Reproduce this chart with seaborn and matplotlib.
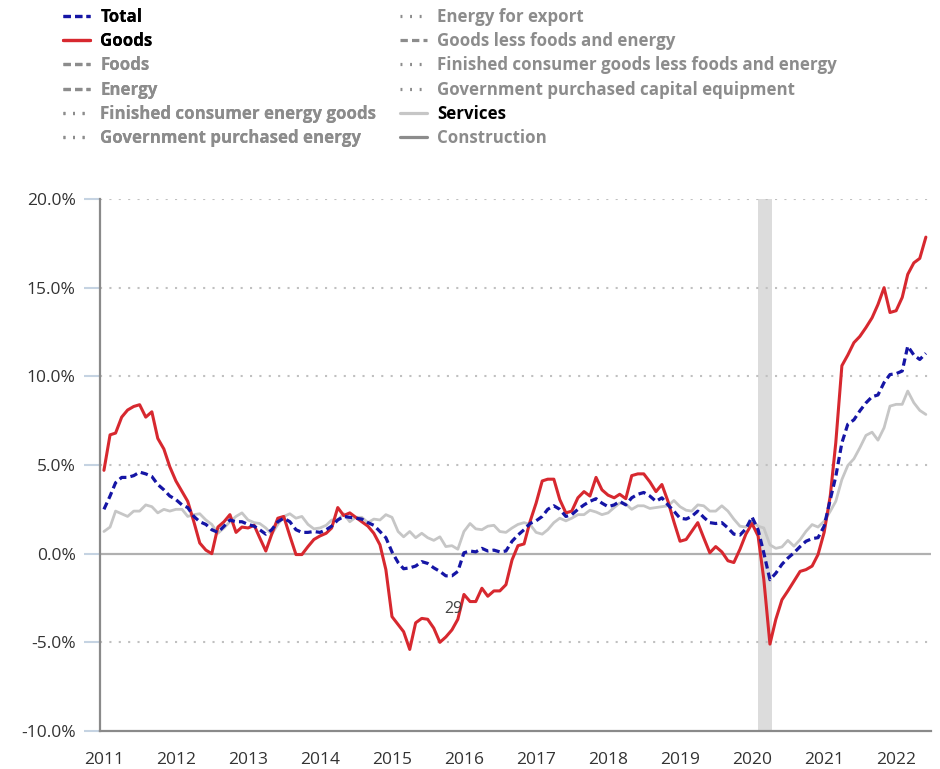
import pandas as pd
import numpy as np
import matplotlib.pyplot as plt
import seaborn as sns
from matplotlib.lines import Line2D
import matplotlib.dates as mdates

# Monthly 12-month % change, Jan 2011 - Jun 2022
goods = [4.7, 6.7, 6.8, 7.7, 8.1, 8.3, 8.4, 7.7, 8.0, 6.5, 5.9, 4.9,
         4.1, 3.5, 2.95, 1.8, 0.6, 0.2, 0.0, 1.5, 1.8, 2.2, 1.2, 1.5,
         1.45, 1.6, 0.9, 0.15, 1.1, 2.0, 2.1, 1.0, -0.05, -0.05, 0.4, 0.8,
         1.0, 1.15, 1.45, 2.6, 2.15, 2.3, 2.05, 1.8, 1.55, 1.15, 0.5, -0.9,
         -3.55, -4.0, -4.4, -5.4, -3.9, -3.65, -3.7, -4.2, -5.0, -4.7, -4.3, -3.7,
         -2.3, -2.7, -2.7, -1.95, -2.4, -2.1, -2.1, -1.75, -0.35, 0.45, 0.55, 1.8,
         2.85, 4.1, 4.2, 4.2, 3.05, 2.3, 2.4, 3.15, 3.5, 3.25, 4.3, 3.6,
         3.3, 3.15, 3.35, 3.1, 4.4, 4.5, 4.5, 4.05, 3.5, 3.9, 2.95, 1.8,
         0.7, 0.8, 1.25, 1.75, 0.9, 0.05, 0.4, 0.1, -0.4, -0.5, 0.25, 1.1,
         1.7, 1.0, -1.45, -5.1, -3.7, -2.6, -2.1, -1.55, -1.0, -0.9, -0.7, -0.05,
         1.2, 3.25, 6.25, 10.6, 11.2, 11.9, 12.25, 12.75, 13.3, 14.05, 15.0, 13.6,
         13.7, 14.45, 15.75, 16.4, 16.65, 17.85]

total = [2.5, 3.25, 4.0, 4.3, 4.3, 4.4, 4.6, 4.5, 4.35, 3.9, 3.6, 3.25,
         3.05, 2.75, 2.6, 2.1, 1.8, 1.65, 1.35, 1.2, 1.55, 1.9, 1.8, 1.8,
         1.65, 1.55, 1.35, 1.1, 1.35, 1.8, 2.0, 1.8, 1.35, 1.2, 1.2, 1.25,
         1.2, 1.35, 1.55, 1.9, 2.1, 2.05, 2.0, 1.95, 1.75, 1.6, 1.25, 0.9,
         0.1, -0.5, -0.85, -0.8, -0.7, -0.45, -0.55, -0.8, -1.0, -1.25, -1.25, -1.0,
         0.05, 0.15, 0.1, 0.3, 0.15, 0.2, 0.1, 0.15, 0.7, 1.05, 1.35, 1.7,
         1.85, 2.1, 2.5, 2.7, 2.5, 2.1, 2.2, 2.5, 2.75, 2.95, 3.1, 2.85,
         2.65, 2.75, 2.95, 2.75, 3.15, 3.35, 3.45, 3.25, 2.95, 3.15, 2.75, 2.4,
         2.0, 1.95, 2.1, 2.4, 2.05, 1.75, 1.7, 1.75, 1.45, 1.1, 1.05, 1.4,
         2.07, 1.35, 0.04, -1.47, -1.1, -0.6, -0.25, 0.05, 0.4, 0.7, 0.85, 0.9,
         1.55, 3.05, 4.35, 6.25, 7.3, 7.55, 8.05, 8.5, 8.85, 8.95, 9.65, 10.1,
         10.15, 10.3, 11.7, 11.2, 10.95, 11.3]

services = [1.25, 1.5, 2.4, 2.25, 2.1, 2.4, 2.4, 2.75, 2.65, 2.3, 2.5, 2.4,
            2.5, 2.5, 2.1, 2.2, 2.25, 1.9, 1.65, 1.15, 1.45, 1.8, 2.1, 2.3,
            1.9, 1.75, 1.7, 1.45, 1.1, 1.65, 2.1, 2.25, 2.0, 2.1, 1.65, 1.4,
            1.45, 1.6, 1.9, 1.9, 2.25, 1.8, 2.05, 2.05, 1.75, 1.95, 1.9, 2.2,
            2.05, 1.25, 0.95, 1.25, 0.9, 1.15, 0.9, 0.75, 0.95, 0.4, 0.45, 0.25,
            1.25, 1.7, 1.4, 1.35, 1.55, 1.6, 1.25, 1.2, 1.45, 1.65, 1.75, 1.65,
            1.2, 1.1, 1.35, 1.75, 2.0, 1.85, 2.0, 2.2, 2.2, 2.45, 2.35, 2.2,
            2.3, 2.6, 2.85, 2.8, 2.5, 2.7, 2.7, 2.55, 2.6, 2.65, 2.7, 3.0,
            2.65, 2.45, 2.4, 2.75, 2.7, 2.4, 2.4, 2.7, 2.4, 1.95, 1.55, 1.5,
            1.88, 1.55, 1.45, 0.5, 0.3, 0.38, 0.75, 0.42, 0.79, 1.26, 1.64, 1.5,
            1.83, 2.39, 2.95, 4.18, 4.97, 5.35, 5.97, 6.67, 6.85, 6.4, 7.1, 8.32,
            8.42, 8.42, 9.17, 8.51, 8.08, 7.85]

dates = pd.date_range("2011-01-01", periods=len(goods), freq="MS")
year_ticks = list(range(2011, 2023))
y_ticks = [-10, -5, 0, 5, 10, 15, 20]

recession_start = pd.Timestamp("2020-02-01")
recession_end = pd.Timestamp("2020-04-12")

# legend entries: (label, style, color, text color)
legend_left = [("Total", (0, (2.3, 1.3)), "#1515a5", "#000000"),
               ("Goods", "-", "#d7282f", "#000000"),
               ("Foods", (0, (2.3, 1.3)), "#8c8c8c", "#8c8c8c"),
               ("Energy", (0, (2.3, 1.3)), "#8c8c8c", "#8c8c8c"),
               ("Finished consumer energy goods", (0, (0.6, 2.4)), "#8c8c8c", "#8c8c8c"),
               ("Government purchased energy", (0, (0.6, 2.4)), "#8c8c8c", "#8c8c8c")]
legend_right = [("Energy for export", (0, (0.6, 2.4)), "#8c8c8c", "#8c8c8c"),
                ("Goods less foods and energy", (0, (2.3, 1.3)), "#8c8c8c", "#8c8c8c"),
                ("Finished consumer goods less foods and energy", (0, (0.6, 2.4)), "#8c8c8c", "#8c8c8c"),
                ("Government purchased capital equipment", (0, (0.6, 2.4)), "#8c8c8c", "#8c8c8c"),
                ("Services", "-", "#c6c6c6", "#000000"),
                ("Construction", "-", "#8c8c8c", "#8c8c8c")]

df = pd.DataFrame({"date": dates, "Goods": goods, "Total": total, "Services": services})

sns.set_theme(style="white")
plt.rcParams["font.family"] = ["Open Sans", "DejaVu Sans"]

fig = plt.figure(figsize=(9.4, 7.69), dpi=100)
ax = fig.add_axes([100 / 940, 38 / 769, 831 / 940, 532 / 769])

ax.axvspan(recession_start, recession_end, color="#dcdcdc", lw=0, zorder=0)

for yv in y_ticks:
    if yv == 0:
        ax.axhline(yv, color="#b0b0b0", lw=1.6, zorder=1)
    elif yv > -10:
        ax.axhline(yv, color="#c0c0c0", lw=1.5, ls=(0, (1, 3.5)), zorder=1)

sns.lineplot(data=df, x="date", y="Services", ax=ax, color="#c6c6c6", lw=2.0, zorder=2)
sns.lineplot(data=df, x="date", y="Goods", ax=ax, color="#d7282f", lw=2.2, zorder=3)
sns.lineplot(data=df, x="date", y="Total", ax=ax, color="#1515a5", lw=2.3,
             linestyle=(0, (2.3, 1.3)), zorder=4)

ax.text(pd.Timestamp("2015-11-10"), -3.1, "29", color="#444444", fontsize=11.5,
        ha="center", va="center")

ax.set_ylim(-10, 20)
ax.set_xlim(pd.Timestamp("2010-12-12"), pd.Timestamp("2022-06-27"))
ax.set_yticks(y_ticks)
ax.set_yticklabels([f"{v:.1f}%" for v in y_ticks])
ax.set_xticks([pd.Timestamp(f"{y}-01-01") for y in year_ticks])
ax.set_xticklabels([str(y) for y in year_ticks])
ax.set_xlabel("")
ax.set_ylabel("")

ax.tick_params(axis="y", length=11.5, width=1.5, color="#c5d3e2", pad=6,
               labelsize=12.5, labelcolor="#333333", left=True)
ax.tick_params(axis="x", length=0, pad=15, labelsize=12.5, labelcolor="#333333")

for side in ["top", "right"]:
    ax.spines[side].set_visible(False)
for side in ["left", "bottom"]:
    ax.spines[side].set_color("#8a8a8a")
    ax.spines[side].set_linewidth(1.6)

def make_legend(entries, x0):
    handles = [Line2D([], [], color=c, lw=2.3, linestyle=s) for _, s, c, _ in entries]
    labels = [lab for lab, _, _, _ in entries]
    leg = fig.legend(handles, labels, loc="upper left",
                     bbox_to_anchor=(x0 / 940, 1 - 8 / 769), frameon=False,
                     borderpad=0, borderaxespad=0, handlelength=1.6,
                     handletextpad=0.6, labelspacing=0.365,
                     prop={"size": 12.2, "weight": "bold"})
    for txt, (_, _, _, tc) in zip(leg.get_texts(), entries):
        txt.set_color(tc)
    return leg

leg1 = make_legend(legend_left, 63)
fig.add_artist(leg1)
make_legend(legend_right, 400)

plt.savefig("out.png", dpi=100)
plt.close()
